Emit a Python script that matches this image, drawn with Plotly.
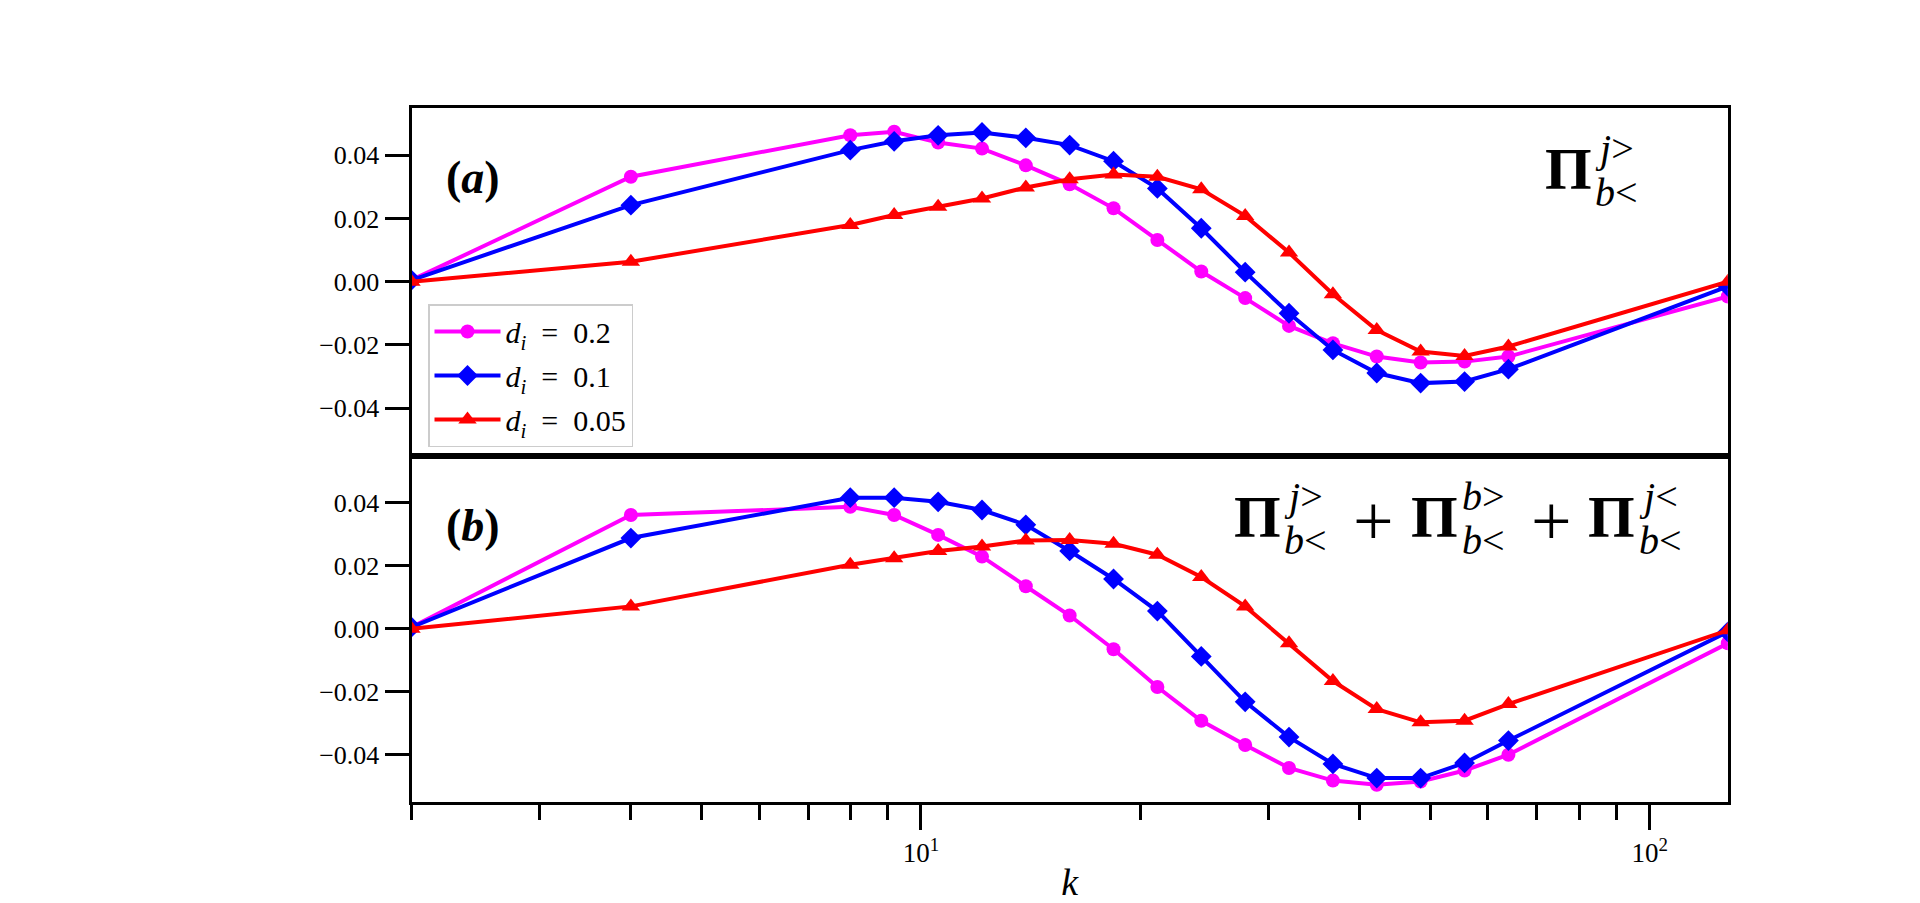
import math
import plotly.graph_objects as go

# ---------------- data ----------------
k = [2, 4, 8, 9.19, 10.56, 12.13, 13.93, 16, 18.38, 21.11, 24.25, 27.86,
     32, 36.76, 42.22, 48.5, 55.72, 64, 128]

labels = ["0.2", "0.1", "0.05"]

# panel (a): Pi_{b<}^{j>}
a_d02 = [0.0005, 0.0332, 0.0463, 0.0474, 0.0440, 0.0421, 0.0368, 0.0308, 0.0232,
         0.0132, 0.0032, -0.0052, -0.0140, -0.0195, -0.0237, -0.0256, -0.0253,
         -0.0237, -0.0047]
a_d01 = [0.0005, 0.0242, 0.0416, 0.0444, 0.0463, 0.0472, 0.0455, 0.0432, 0.0381,
         0.0295, 0.0169, 0.0030, -0.0100, -0.0216, -0.0289, -0.0321, -0.0316,
         -0.0277, -0.0015]
a_d005 = [0.0, 0.0063, 0.0179, 0.0211, 0.0237, 0.0263, 0.0298, 0.0324, 0.0339,
          0.0332, 0.0292, 0.0208, 0.0092, -0.0040, -0.0153, -0.0221, -0.0235,
          -0.0205, 0.0]

# panel (b): sum of the three transfers
b_d02 = [0.0005, 0.0361, 0.0387, 0.0361, 0.0298, 0.0229, 0.0135, 0.0042, -0.0065,
         -0.0185, -0.0292, -0.0369, -0.0442, -0.0482, -0.0495, -0.0485, -0.0450,
         -0.0400, -0.0046]
b_d01 = [0.0005, 0.0288, 0.0416, 0.0416, 0.0403, 0.0377, 0.0330, 0.0247, 0.0158,
         0.0056, -0.0088, -0.0232, -0.0344, -0.0429, -0.0474, -0.0474, -0.0426,
         -0.0355, -0.0010]
b_d005 = [0.0, 0.0071, 0.0203, 0.0224, 0.0247, 0.0261, 0.0280, 0.0282, 0.0270,
          0.0235, 0.0164, 0.0071, -0.0046, -0.0166, -0.0255, -0.0297, -0.0292,
          -0.0239, -0.0005]

y_tickvals = [-0.04, -0.02, 0.0, 0.02, 0.04]
y_ticktext = ["\u22120.04", "\u22120.02", "0.00", "0.02", "0.04"]
x_major = [10, 100]
x_major_text = ["10<sup>1</sup>", "10<sup>2</sup>"]
x_minor = [2, 3, 4, 5, 6, 7, 8, 9, 20, 30, 40, 50, 60, 70, 80, 90]

# ---------------- styling ----------------
W, H = 1920, 903
FONT = "Liberation Serif"


def px(x):
    return x / W


def py(y):
    return 1 - y / H


colors = ["#ff00ff", "#0000ff", "#ff0000"]
symbols = ["circle", "diamond", "triangle-up"]
msizes = [14, 16, 16]
LW = 4

fig = go.Figure()

for i, ys in enumerate([a_d02, a_d01, a_d005]):
    fig.add_trace(go.Scatter(
        x=k, y=ys, mode="lines+markers", xaxis="x", yaxis="y",
        name=f"<i>d</i><sub><i>i</i></sub>\u2002=\u2002{labels[i]}",
        line=dict(color=colors[i], width=LW),
        marker=dict(symbol=symbols[i], size=msizes[i], color=colors[i]),
        showlegend=True, legendgroup=labels[i]))

for i, ys in enumerate([b_d02, b_d01, b_d005]):
    fig.add_trace(go.Scatter(
        x=k, y=ys, mode="lines+markers", xaxis="x2", yaxis="y2",
        name=f"<i>d</i><sub><i>i</i></sub>\u2002=\u2002{labels[i]}",
        line=dict(color=colors[i], width=LW),
        marker=dict(symbol=symbols[i], size=msizes[i], color=colors[i]),
        showlegend=False, legendgroup=labels[i]))

xdom = [px(411.5), px(1727.8)]
xrange_log = [math.log10(2), math.log10(128)]

axis_line = dict(showline=True, linecolor="black", linewidth=3, mirror=True,
                 showgrid=False, zeroline=False)

yaxis_common = dict(range=[-0.055, 0.055], tickmode="array", tickvals=y_tickvals,
                    ticktext=y_ticktext, ticks="outside", ticklen=24, tickwidth=3,
                    tickcolor="black", tickfont=dict(family=FONT, size=26, color="black"),
                    **axis_line)

annotations = []


def add_text(x, y, text, size, xanchor="center"):
    annotations.append(dict(x=px(x), y=py(y), xref="paper", yref="paper",
                            text=text, showarrow=False, xanchor=xanchor,
                            yanchor="middle", borderpad=0,
                            font=dict(family=FONT, size=size, color="black")))


def pi_term(xc, yc, sup, sub):
    add_text(xc, yc, "<b>\u03a0</b>", 60)
    add_text(xc + 26, yc - 21, sup, 40, xanchor="left")
    add_text(xc + 26, yc + 23, sub, 40, xanchor="left")


add_text(473, 177, "<b>(<i>a</i>)</b>", 46)
add_text(473, 525, "<b>(<i>b</i>)</b>", 46)

pi_term(1568, 169, "<i>j</i>&gt;", "<i>b</i>&lt;")

pi_term(1257, 517, "<i>j</i>&gt;", "<i>b</i>&lt;")
add_text(1373.5, 521, "+", 72)
pi_term(1434.5, 517, "<i>b</i>&gt;", "<i>b</i>&lt;")
add_text(1551, 521, "+", 72)
pi_term(1611.5, 517, "<i>j</i>&lt;", "<i>b</i>&lt;")

fig.update_layout(
    width=W, height=H,
    margin=dict(l=0, r=0, t=0, b=0),
    paper_bgcolor="white", plot_bgcolor="white",
    font=dict(family=FONT, size=26, color="black"),
    xaxis=dict(domain=xdom, anchor="y", type="log", range=xrange_log,
               showticklabels=False, ticks="", matches="x2", **axis_line),
    yaxis=dict(domain=[py(455.5), py(107.8)], anchor="x", **yaxis_common),
    xaxis2=dict(domain=xdom, anchor="y2", type="log", range=xrange_log,
                tickmode="array", tickvals=x_major, ticktext=x_major_text,
                ticks="outside", ticklen=25, tickwidth=3, tickcolor="black",
                tickfont=dict(family=FONT, size=27, color="black"),
                minor=dict(tickmode="array", tickvals=x_minor, ticks="outside",
                           ticklen=15, tickwidth=3, tickcolor="black", showgrid=False),
                title=dict(text="<i>k</i>", font=dict(family=FONT, size=38, color="black"),
                           standoff=4),
                **axis_line),
    yaxis2=dict(domain=[py(802), py(455.5)], anchor="x2", **yaxis_common),
    legend=dict(x=px(428), y=py(304), xanchor="left", yanchor="top",
                bgcolor="white", bordercolor="#cccccc", borderwidth=1.5,
                font=dict(family=FONT, size=30, color="black"),
                tracegroupgap=2, itemwidth=66),
    annotations=annotations,
)

fig.write_html("out.html", config={"displayModeBar": False},
               post_script="document.body.style.margin='0';document.body.style.overflow='hidden';")
